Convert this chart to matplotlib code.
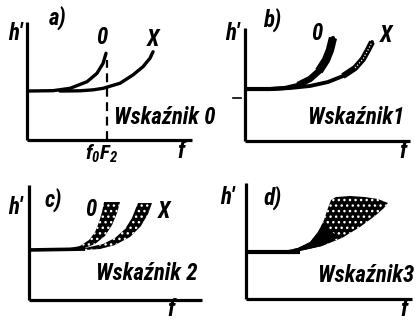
import matplotlib
matplotlib.use("Agg")
import matplotlib.pyplot as plt
from matplotlib.patches import Polygon

plt.rcParams["mathtext.fontset"] = "custom"
plt.rcParams["mathtext.it"] = "Roboto Condensed:bold:italic"
plt.rcParams["mathtext.rm"] = "Roboto Condensed:bold:italic"
plt.rcParams["hatch.linewidth"] = 1.0

W, H = 419, 320
fig = plt.figure(figsize=(W / 100, H / 100), dpi=100)
fig.patch.set_facecolor("white")

# ---- data (f, h') for each sketch, arbitrary units 0..10 ----
# a) Wskaźnik 0: clean O and X traces
a_o_f = [0.0, 1.58, 2.61, 3.64, 4.24, 4.61, 4.79]
a_o_h = [4.15, 4.18, 4.38, 4.94, 5.65, 6.5, 7.35]
a_x_f = [2.0, 3.2, 4.0, 4.61, 5.64, 6.42, 7.03, 7.45, 7.64]
a_x_h = [4.15, 4.17, 4.25, 4.38, 4.81, 5.51, 6.21, 6.92, 7.48]
a_fof2 = 4.85
a_fof2_top = 6.8

# b) Wskaźnik 1: slightly widened traces
b_o_f = [0.0, 1.52, 2.42, 3.21, 3.94, 4.48, 4.91, 5.15, 5.33]
b_o_h = [4.6, 4.6, 4.69, 4.96, 5.49, 6.19, 7.17, 8.05, 9.12]
b_x_f = [1.52, 2.73, 3.94, 5.03, 5.94, 6.67, 7.15, 7.45, 7.70]
b_x_h = [4.6, 4.69, 4.87, 5.22, 5.75, 6.46, 7.26, 8.05, 8.76]

# c) Wskaźnik 2: diffuse bands (upper-left and lower-right edges)
c_base_f = [0.0, 3.24]
c_base_h = [4.35, 4.43]
c_o_up_f = [2.08, 2.95, 3.47, 3.82, 4.05, 4.22, 4.34]
c_o_up_h = [4.43, 4.70, 5.22, 5.91, 6.78, 7.65, 8.52]
c_o_lo_f = [5.26, 5.09, 4.80, 4.39, 3.82, 3.06, 2.08]
c_o_lo_h = [8.52, 7.57, 6.52, 5.57, 4.87, 4.43, 4.35]
c_x_up_f = [3.24, 4.28, 4.97, 5.55, 5.95, 6.18, 6.30]
c_x_up_h = [4.52, 4.87, 5.39, 6.17, 7.13, 8.0, 8.43]
c_x_lo_f = [7.11, 6.88, 6.47, 5.84, 4.97, 4.10, 3.24]
c_x_lo_h = [8.43, 7.48, 6.43, 5.48, 4.78, 4.43, 4.35]

# d) Wskaźnik 3: single spread cloud with a dense lower part
d_base_f = [0.0, 3.25]
d_base_h = [4.05, 4.05]
d_cloud_f = [2.05, 3.13, 3.86, 4.34, 4.70, 4.94, 5.12, 5.42,
             6.27, 7.17, 7.95, 8.55,
             8.31, 7.77, 6.87, 5.78, 4.58, 3.25, 2.05]
d_cloud_h = [4.05, 4.40, 4.91, 5.78, 6.81, 7.84, 8.53, 8.79,
             8.88, 8.79, 8.62, 8.28,
             7.84, 7.16, 6.21, 5.26, 4.57, 4.14, 3.97]
d_core_f = [2.05, 3.13, 3.86, 4.34, 4.62, 5.1, 5.6, 4.58, 3.25, 2.05]
d_core_h = [4.05, 4.40, 4.91, 5.78, 6.5, 5.9, 5.3, 4.57, 4.14, 3.97]

labels = ["Wskaźnik 0", "Wskaźnik1", "Wskaźnik 2", "Wskaźnik3"]

# ---- layout helpers (pixel boxes: left, top, right, bottom) ----
boxes = {"a": (27, 22, 192, 140), "b": (245, 28, 410, 141),
         "c": (29, 185, 202, 300), "d": (246, 183, 412, 299)}

font = dict(family="Roboto Condensed", weight="bold", style="italic",
            color="black")


def make_axes(key):
    l, t, r, b = boxes[key]
    ax = fig.add_axes([l / W, 1 - b / H, (r - l) / W, (b - t) / H])
    ax.set_xlim(0, 10)
    ax.set_ylim(0, 10)
    for s in ("top", "right"):
        ax.spines[s].set_visible(False)
    for s in ("left", "bottom"):
        ax.spines[s].set_linewidth(2.3)
        ax.spines[s].set_capstyle("butt")
    ax.set_xticks([])
    ax.set_yticks([])
    ax.patch.set_alpha(0)
    return ax


def label(x, y, s, size=16.5, ha="center", va="center", **kw):
    d = dict(font)
    d.update(kw)
    fig.text(x / W, 1 - y / H, s, fontsize=size, ha=ha, va=va, **d)


# a)
ax = make_axes("a")
ax.plot(a_o_f, a_o_h, color="black", lw=2.4, solid_capstyle="round")
ax.plot(a_x_f, a_x_h, color="black", lw=2.4, solid_capstyle="round")
ax.plot([a_fof2, a_fof2], [0, a_fof2_top], color="black", lw=1.6,
        dashes=(4, 2.5))

# b)
ax = make_axes("b")
ax.plot(b_o_f, b_o_h, color="black", lw=3.0, solid_capstyle="round")
ax.plot(b_o_f[3:], b_o_h[3:], color="black", lw=4.6, solid_capstyle="butt")
ax.plot(b_o_f[5:], b_o_h[5:], color="black", lw=6.0, solid_capstyle="butt")
ax.plot(b_x_f, b_x_h, color="black", lw=2.8, solid_capstyle="round")
ax.plot(b_x_f[4:], b_x_h[4:], color="black", lw=4.4, solid_capstyle="butt")
ax.plot(b_x_f[5:], b_x_h[5:], color="white", lw=0.9, ls=(0, (1, 1.5)))
ax.plot([-0.75, -0.25], [3.8, 3.8], color="black", lw=1.2, clip_on=False)

# c)
ax = make_axes("c")
ax.plot(c_base_f, c_base_h, color="black", lw=2.6, solid_capstyle="butt")
for uf, uh, lf, lh in ((c_o_up_f, c_o_up_h, c_o_lo_f, c_o_lo_h),
                       (c_x_up_f, c_x_up_h, c_x_lo_f, c_x_lo_h)):
    pts = list(zip(uf + lf, uh + lh))
    ax.add_patch(Polygon(pts, closed=True, facecolor="black",
                         edgecolor="white", hatch="...", lw=0))

# d)
ax = make_axes("d")
ax.plot(d_base_f, d_base_h, color="black", lw=3.0, solid_capstyle="butt")
ax.add_patch(Polygon(list(zip(d_cloud_f, d_cloud_h)), closed=True,
                     facecolor="black", edgecolor="white", hatch="...", lw=0))
ax.add_patch(Polygon(list(zip(d_core_f, d_core_h)), closed=True,
                     facecolor="black", edgecolor="none", lw=0))

# ---- texts ----
label(15, 34, "h'")
label(58, 18, "a)")
label(102, 38, "0")
label(153, 40, "X")
label(114, 117, labels[0], ha="left")
label(101, 154, r"$f_0F_2$", size=15)
label(181, 151, "f")

label(232, 34, "h'")
label(272, 20, "b)")
label(317, 34, "0")
label(386, 36, "X")
label(308, 118, labels[1], ha="left")
label(403, 151, "f")

label(15, 207, "h'")
label(53, 200, "c)")
label(91, 210, "0")
label(164, 211, "X")
label(96, 273, labels[2], ha="left")
label(171, 309, "f")

label(227, 197, "h'")
label(273, 198, "d)")
label(318, 276, labels[3], ha="left")
label(404, 309, "f")

fig.savefig("out.png", dpi=100, facecolor="white")
